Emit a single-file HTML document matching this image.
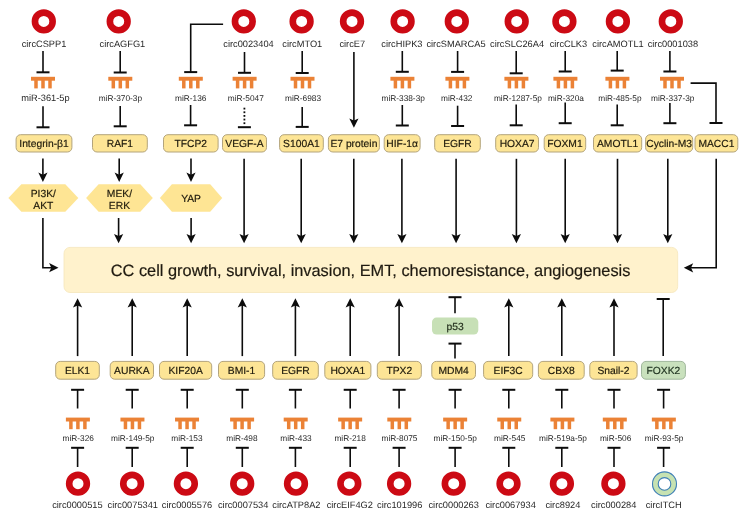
<!DOCTYPE html>
<html><head><meta charset="utf-8"><style>
html,body{margin:0;padding:0;background:#fff;}
svg{display:block;font-family:"Liberation Sans",sans-serif;will-change:transform;text-rendering:geometricPrecision;}
</style></head><body>
<svg width="742" height="515" viewBox="0 0 742 515">
<rect width="742" height="515" fill="#fff"/>
<rect x="64" y="247.4" width="613.7" height="45.1" rx="6" ry="6" fill="#fff2cc" stroke="#f5e6bb" stroke-width="0.8"/>
<text x="370.6" y="276.4" font-size="16.35" fill="#1f1a10" text-anchor="middle" stroke="#1f1a10" stroke-width="0.2">CC cell growth, survival, invasion, EMT, chemoresistance, angiogenesis</text>
<circle cx="43.8" cy="21.4" r="8.825" fill="none" stroke="#cc0a14" stroke-width="6.65"/>
<text x="44.0" y="46.7" font-size="9.25" fill="#262626" text-anchor="middle">circCSPP1</text>
<line x1="43.0" y1="51" x2="43.0" y2="72.3" stroke="#0c0c0c" stroke-width="1.6"/>
<line x1="36.5" y1="72.3" x2="49.5" y2="72.3" stroke="#0c0c0c" stroke-width="2"/>
<rect x="31.0" y="76.8" width="24" height="3.9" fill="#eb8236"/>
<rect x="34.25" y="79.8" width="3.5" height="8.6" fill="#eb8236"/>
<rect x="41.25" y="79.8" width="3.5" height="8.6" fill="#eb8236"/>
<rect x="48.25" y="79.8" width="3.5" height="8.6" fill="#eb8236"/>
<text x="45.4" y="100.9" font-size="9.25" fill="#262626" text-anchor="middle">miR-361-5p</text>
<line x1="43.0" y1="106.3" x2="43.0" y2="127.3" stroke="#0c0c0c" stroke-width="1.6"/>
<line x1="36.5" y1="127.3" x2="49.5" y2="127.3" stroke="#0c0c0c" stroke-width="2"/>
<rect x="16.1" y="134.7" width="55.800000000000004" height="17.30000000000001" rx="4.5" ry="4.5" fill="#fde596" stroke="#b3a47c" stroke-width="1"/>
<text x="44.0" y="147.26399999999998" font-size="10.3" fill="#1e1a0c" text-anchor="middle" stroke="#1e1a0c" stroke-width="0.18">Integrin-β1</text>
<circle cx="118.7" cy="21.4" r="8.825" fill="none" stroke="#cc0a14" stroke-width="6.65"/>
<text x="122.4" y="46.7" font-size="9.25" fill="#262626" text-anchor="middle">circAGFG1</text>
<line x1="120.2" y1="51" x2="120.2" y2="72.5" stroke="#0c0c0c" stroke-width="1.6"/>
<line x1="113.7" y1="72.5" x2="126.7" y2="72.5" stroke="#0c0c0c" stroke-width="2"/>
<rect x="108.3" y="76.8" width="24" height="3.9" fill="#eb8236"/>
<rect x="111.55" y="79.8" width="3.5" height="8.6" fill="#eb8236"/>
<rect x="118.55" y="79.8" width="3.5" height="8.6" fill="#eb8236"/>
<rect x="125.55" y="79.8" width="3.5" height="8.6" fill="#eb8236"/>
<text x="120.4" y="100.9" font-size="8.3" fill="#262626" text-anchor="middle">miR-370-3p</text>
<line x1="120.2" y1="106.1" x2="120.2" y2="126.3" stroke="#0c0c0c" stroke-width="1.6"/>
<line x1="113.7" y1="126.3" x2="126.7" y2="126.3" stroke="#0c0c0c" stroke-width="2"/>
<rect x="92.5" y="134.7" width="54.80000000000001" height="17.30000000000001" rx="4.5" ry="4.5" fill="#fde596" stroke="#b3a47c" stroke-width="1"/>
<text x="119.9" y="147.26399999999998" font-size="10.3" fill="#1e1a0c" text-anchor="middle" stroke="#1e1a0c" stroke-width="0.18">RAF1</text>
<circle cx="301.6" cy="21.4" r="8.825" fill="none" stroke="#cc0a14" stroke-width="6.65"/>
<text x="302.3" y="46.7" font-size="9.25" fill="#262626" text-anchor="middle">circMTO1</text>
<line x1="302.2" y1="51" x2="302.2" y2="73.0" stroke="#0c0c0c" stroke-width="1.6"/>
<line x1="295.7" y1="73.0" x2="308.7" y2="73.0" stroke="#0c0c0c" stroke-width="2"/>
<rect x="290.5" y="76.8" width="24" height="3.9" fill="#eb8236"/>
<rect x="293.75" y="79.8" width="3.5" height="8.6" fill="#eb8236"/>
<rect x="300.75" y="79.8" width="3.5" height="8.6" fill="#eb8236"/>
<rect x="307.75" y="79.8" width="3.5" height="8.6" fill="#eb8236"/>
<text x="303.1" y="100.9" font-size="8.3" fill="#262626" text-anchor="middle">miR-6983</text>
<line x1="302.2" y1="107" x2="302.2" y2="126.9" stroke="#0c0c0c" stroke-width="1.6"/>
<line x1="295.7" y1="126.9" x2="308.7" y2="126.9" stroke="#0c0c0c" stroke-width="2"/>
<rect x="279.6" y="134.7" width="43.69999999999999" height="17.30000000000001" rx="4.5" ry="4.5" fill="#fde596" stroke="#b3a47c" stroke-width="1"/>
<text x="301.45000000000005" y="147.26399999999998" font-size="10.3" fill="#1e1a0c" text-anchor="middle" stroke="#1e1a0c" stroke-width="0.18">S100A1</text>
<circle cx="402.6" cy="21.4" r="8.825" fill="none" stroke="#cc0a14" stroke-width="6.65"/>
<text x="401.9" y="46.7" font-size="9.25" fill="#262626" text-anchor="middle">circHIPK3</text>
<line x1="402.3" y1="51" x2="402.3" y2="71.8" stroke="#0c0c0c" stroke-width="1.6"/>
<line x1="395.8" y1="71.8" x2="408.8" y2="71.8" stroke="#0c0c0c" stroke-width="2"/>
<rect x="390.4" y="76.8" width="24" height="3.9" fill="#eb8236"/>
<rect x="393.65" y="79.8" width="3.5" height="8.6" fill="#eb8236"/>
<rect x="400.65" y="79.8" width="3.5" height="8.6" fill="#eb8236"/>
<rect x="407.65" y="79.8" width="3.5" height="8.6" fill="#eb8236"/>
<text x="403.2" y="100.9" font-size="8.3" fill="#262626" text-anchor="middle">miR-338-3p</text>
<line x1="402.3" y1="105" x2="402.3" y2="125.5" stroke="#0c0c0c" stroke-width="1.6"/>
<line x1="395.8" y1="125.5" x2="408.8" y2="125.5" stroke="#0c0c0c" stroke-width="2"/>
<rect x="384.2" y="134.7" width="35.900000000000034" height="17.30000000000001" rx="4.5" ry="4.5" fill="#fde596" stroke="#b3a47c" stroke-width="1"/>
<text x="402.15" y="147.26399999999998" font-size="10.3" fill="#1e1a0c" text-anchor="middle" stroke="#1e1a0c" stroke-width="0.18">HIF-1α</text>
<circle cx="456.8" cy="21.4" r="8.825" fill="none" stroke="#cc0a14" stroke-width="6.65"/>
<text x="456.0" y="46.7" font-size="9.25" fill="#262626" text-anchor="middle">circSMARCA5</text>
<line x1="457.6" y1="51" x2="457.6" y2="71.9" stroke="#0c0c0c" stroke-width="1.6"/>
<line x1="451.1" y1="71.9" x2="464.1" y2="71.9" stroke="#0c0c0c" stroke-width="2"/>
<rect x="445.4" y="76.8" width="24" height="3.9" fill="#eb8236"/>
<rect x="448.65" y="79.8" width="3.5" height="8.6" fill="#eb8236"/>
<rect x="455.65" y="79.8" width="3.5" height="8.6" fill="#eb8236"/>
<rect x="462.65" y="79.8" width="3.5" height="8.6" fill="#eb8236"/>
<text x="456.7" y="100.9" font-size="8.3" fill="#262626" text-anchor="middle">miR-432</text>
<line x1="457.6" y1="105.7" x2="457.6" y2="126.0" stroke="#0c0c0c" stroke-width="1.6"/>
<line x1="451.1" y1="126.0" x2="464.1" y2="126.0" stroke="#0c0c0c" stroke-width="2"/>
<rect x="434.7" y="134.7" width="45.60000000000002" height="17.30000000000001" rx="4.5" ry="4.5" fill="#fde596" stroke="#b3a47c" stroke-width="1"/>
<text x="457.5" y="147.26399999999998" font-size="10.3" fill="#1e1a0c" text-anchor="middle" stroke="#1e1a0c" stroke-width="0.18">EGFR</text>
<circle cx="516.7" cy="21.4" r="8.825" fill="none" stroke="#cc0a14" stroke-width="6.65"/>
<text x="517.1" y="46.7" font-size="9.25" fill="#262626" text-anchor="middle">circSLC26A4</text>
<line x1="516.2" y1="51" x2="516.2" y2="73.3" stroke="#0c0c0c" stroke-width="1.6"/>
<line x1="509.70000000000005" y1="73.3" x2="522.7" y2="73.3" stroke="#0c0c0c" stroke-width="2"/>
<rect x="504.4" y="76.8" width="24" height="3.9" fill="#eb8236"/>
<rect x="507.65" y="79.8" width="3.5" height="8.6" fill="#eb8236"/>
<rect x="514.65" y="79.8" width="3.5" height="8.6" fill="#eb8236"/>
<rect x="521.65" y="79.8" width="3.5" height="8.6" fill="#eb8236"/>
<text x="517.9" y="100.9" font-size="8.3" fill="#262626" text-anchor="middle">miR-1287-5p</text>
<line x1="516.2" y1="104.4" x2="516.2" y2="125.3" stroke="#0c0c0c" stroke-width="1.6"/>
<line x1="509.70000000000005" y1="125.3" x2="522.7" y2="125.3" stroke="#0c0c0c" stroke-width="2"/>
<rect x="495.7" y="134.7" width="42.80000000000001" height="17.30000000000001" rx="4.5" ry="4.5" fill="#fde596" stroke="#b3a47c" stroke-width="1"/>
<text x="517.1" y="147.26399999999998" font-size="10.3" fill="#1e1a0c" text-anchor="middle" stroke="#1e1a0c" stroke-width="0.18">HOXA7</text>
<circle cx="564.4" cy="21.4" r="8.825" fill="none" stroke="#cc0a14" stroke-width="6.65"/>
<text x="568.4" y="46.7" font-size="9.25" fill="#262626" text-anchor="middle">circCLK3</text>
<line x1="565.2" y1="51" x2="565.2" y2="71.5" stroke="#0c0c0c" stroke-width="1.6"/>
<line x1="558.7" y1="71.5" x2="571.7" y2="71.5" stroke="#0c0c0c" stroke-width="2"/>
<rect x="553.4" y="76.8" width="24" height="3.9" fill="#eb8236"/>
<rect x="556.65" y="79.8" width="3.5" height="8.6" fill="#eb8236"/>
<rect x="563.65" y="79.8" width="3.5" height="8.6" fill="#eb8236"/>
<rect x="570.65" y="79.8" width="3.5" height="8.6" fill="#eb8236"/>
<text x="565.9" y="100.9" font-size="8.3" fill="#262626" text-anchor="middle">miR-320a</text>
<line x1="565.2" y1="102.5" x2="565.2" y2="123.2" stroke="#0c0c0c" stroke-width="1.6"/>
<line x1="558.7" y1="123.2" x2="571.7" y2="123.2" stroke="#0c0c0c" stroke-width="2"/>
<rect x="544.2" y="134.7" width="41.5" height="17.30000000000001" rx="4.5" ry="4.5" fill="#fde596" stroke="#b3a47c" stroke-width="1"/>
<text x="564.95" y="147.26399999999998" font-size="10.3" fill="#1e1a0c" text-anchor="middle" stroke="#1e1a0c" stroke-width="0.18">FOXM1</text>
<circle cx="617.9" cy="21.4" r="8.825" fill="none" stroke="#cc0a14" stroke-width="6.65"/>
<text x="618.0" y="46.7" font-size="9.25" fill="#262626" text-anchor="middle">circAMOTL1</text>
<line x1="617.2" y1="51" x2="617.2" y2="70.6" stroke="#0c0c0c" stroke-width="1.6"/>
<line x1="610.7" y1="70.6" x2="623.7" y2="70.6" stroke="#0c0c0c" stroke-width="2"/>
<rect x="605.4" y="76.8" width="24" height="3.9" fill="#eb8236"/>
<rect x="608.65" y="79.8" width="3.5" height="8.6" fill="#eb8236"/>
<rect x="615.65" y="79.8" width="3.5" height="8.6" fill="#eb8236"/>
<rect x="622.65" y="79.8" width="3.5" height="8.6" fill="#eb8236"/>
<text x="619.9" y="100.9" font-size="8.3" fill="#262626" text-anchor="middle">miR-485-5p</text>
<line x1="617.2" y1="104.4" x2="617.2" y2="125.3" stroke="#0c0c0c" stroke-width="1.6"/>
<line x1="610.7" y1="125.3" x2="623.7" y2="125.3" stroke="#0c0c0c" stroke-width="2"/>
<rect x="593.5" y="134.7" width="48.200000000000045" height="17.30000000000001" rx="4.5" ry="4.5" fill="#fde596" stroke="#b3a47c" stroke-width="1"/>
<text x="617.6" y="147.26399999999998" font-size="10.3" fill="#1e1a0c" text-anchor="middle" stroke="#1e1a0c" stroke-width="0.18">AMOTL1</text>
<circle cx="670.8" cy="21.4" r="8.825" fill="none" stroke="#cc0a14" stroke-width="6.65"/>
<text x="672.9" y="46.7" font-size="9.25" fill="#262626" text-anchor="middle">circ0001038</text>
<line x1="669.9" y1="51" x2="669.9" y2="71.5" stroke="#0c0c0c" stroke-width="1.6"/>
<line x1="663.4" y1="71.5" x2="676.4" y2="71.5" stroke="#0c0c0c" stroke-width="2"/>
<rect x="660.0" y="76.8" width="24" height="3.9" fill="#eb8236"/>
<rect x="663.25" y="79.8" width="3.5" height="8.6" fill="#eb8236"/>
<rect x="670.25" y="79.8" width="3.5" height="8.6" fill="#eb8236"/>
<rect x="677.25" y="79.8" width="3.5" height="8.6" fill="#eb8236"/>
<text x="672.8" y="100.9" font-size="8.3" fill="#262626" text-anchor="middle">miR-337-3p</text>
<line x1="669.9" y1="103" x2="669.9" y2="123.2" stroke="#0c0c0c" stroke-width="1.6"/>
<line x1="663.4" y1="123.2" x2="676.4" y2="123.2" stroke="#0c0c0c" stroke-width="2"/>
<rect x="645.6" y="134.7" width="47.10000000000002" height="17.30000000000001" rx="4.5" ry="4.5" fill="#fde596" stroke="#b3a47c" stroke-width="1"/>
<text x="669.1500000000001" y="147.26399999999998" font-size="10.3" fill="#1e1a0c" text-anchor="middle" stroke="#1e1a0c" stroke-width="0.18">Cyclin-M3</text>
<circle cx="243.8" cy="21.4" r="8.825" fill="none" stroke="#cc0a14" stroke-width="6.65"/>
<text x="248.5" y="46.7" font-size="9.25" fill="#262626" text-anchor="middle">circ0023404</text>
<line x1="244.5" y1="52" x2="244.5" y2="72.8" stroke="#0c0c0c" stroke-width="1.6"/>
<line x1="238.0" y1="72.8" x2="251.0" y2="72.8" stroke="#0c0c0c" stroke-width="2"/>
<rect x="232.6" y="76.8" width="24" height="3.9" fill="#eb8236"/>
<rect x="235.85" y="79.8" width="3.5" height="8.6" fill="#eb8236"/>
<rect x="242.85" y="79.8" width="3.5" height="8.6" fill="#eb8236"/>
<rect x="249.85" y="79.8" width="3.5" height="8.6" fill="#eb8236"/>
<text x="245.8" y="100.9" font-size="8.3" fill="#262626" text-anchor="middle">miR-5047</text>
<rect x="243.5" y="107.69999999999999" width="1.8" height="1.8" fill="#0c0c0c"/>
<rect x="243.5" y="111.35" width="1.8" height="1.8" fill="#0c0c0c"/>
<rect x="243.5" y="115.0" width="1.8" height="1.8" fill="#0c0c0c"/>
<rect x="243.5" y="118.64999999999999" width="1.8" height="1.8" fill="#0c0c0c"/>
<rect x="243.5" y="122.3" width="1.8" height="1.8" fill="#0c0c0c"/>
<line x1="237.9" y1="127.2" x2="250.9" y2="127.2" stroke="#0c0c0c" stroke-width="2"/>
<rect x="222.5" y="134.7" width="44.0" height="17.30000000000001" rx="4.5" ry="4.5" fill="#fde596" stroke="#b3a47c" stroke-width="1"/>
<text x="244.5" y="147.26399999999998" font-size="10.3" fill="#1e1a0c" text-anchor="middle" stroke="#1e1a0c" stroke-width="0.18">VEGF-A</text>
<polyline points="223.1,24.3 190.7,24.3 190.7,72.1" fill="none" stroke="#0c0c0c" stroke-width="1.6"/>
<line x1="184.2" y1="72.1" x2="197.2" y2="72.1" stroke="#0c0c0c" stroke-width="2"/>
<rect x="178.8" y="76.8" width="24" height="3.9" fill="#eb8236"/>
<rect x="182.05" y="79.8" width="3.5" height="8.6" fill="#eb8236"/>
<rect x="189.05" y="79.8" width="3.5" height="8.6" fill="#eb8236"/>
<rect x="196.05" y="79.8" width="3.5" height="8.6" fill="#eb8236"/>
<text x="190.8" y="100.9" font-size="8.3" fill="#262626" text-anchor="middle">miR-136</text>
<line x1="190.6" y1="105" x2="190.6" y2="125.3" stroke="#0c0c0c" stroke-width="1.6"/>
<line x1="184.1" y1="125.3" x2="197.1" y2="125.3" stroke="#0c0c0c" stroke-width="2"/>
<rect x="163.5" y="134.7" width="54.599999999999994" height="17.30000000000001" rx="4.5" ry="4.5" fill="#fde596" stroke="#b3a47c" stroke-width="1"/>
<text x="190.8" y="147.26399999999998" font-size="10.3" fill="#1e1a0c" text-anchor="middle" stroke="#1e1a0c" stroke-width="0.18">TFCP2</text>
<circle cx="352.0" cy="21.4" r="8.825" fill="none" stroke="#cc0a14" stroke-width="6.65"/>
<text x="352.3" y="46.7" font-size="9.25" fill="#262626" text-anchor="middle">circE7</text>
<line x1="353.9" y1="52" x2="353.9" y2="122.8" stroke="#0c0c0c" stroke-width="1.6"/>
<polygon points="353.9,127.8 349.29999999999995,118.39999999999999 353.9,120.6 358.5,118.39999999999999" fill="#0c0c0c"/>
<rect x="328.4" y="134.7" width="51.0" height="17.30000000000001" rx="4.5" ry="4.5" fill="#fde596" stroke="#b3a47c" stroke-width="1"/>
<text x="353.9" y="147.26399999999998" font-size="10.3" fill="#1e1a0c" text-anchor="middle" stroke="#1e1a0c" stroke-width="0.18">E7 protein</text>
<polyline points="690.6,83.1 716,83.1 716,123" fill="none" stroke="#0c0c0c" stroke-width="1.6"/>
<line x1="709.5" y1="123" x2="722.5" y2="123" stroke="#0c0c0c" stroke-width="2"/>
<rect x="695" y="134.7" width="42.799999999999955" height="17.30000000000001" rx="4.5" ry="4.5" fill="#fde596" stroke="#b3a47c" stroke-width="1"/>
<text x="716.4" y="147.26399999999998" font-size="10.3" fill="#1e1a0c" text-anchor="middle" stroke="#1e1a0c" stroke-width="0.18">MACC1</text>
<line x1="42.9" y1="158.5" x2="42.9" y2="177" stroke="#0c0c0c" stroke-width="1.6"/>
<polygon points="42.9,182 38.3,172.6 42.9,174.8 47.5,172.6" fill="#0c0c0c"/>
<line x1="119.2" y1="158.5" x2="119.2" y2="177" stroke="#0c0c0c" stroke-width="1.6"/>
<polygon points="119.2,182 114.60000000000001,172.6 119.2,174.8 123.8,172.6" fill="#0c0c0c"/>
<line x1="191.0" y1="158.5" x2="191.0" y2="177" stroke="#0c0c0c" stroke-width="1.6"/>
<polygon points="191.0,182 186.4,172.6 191.0,174.8 195.6,172.6" fill="#0c0c0c"/>
<polygon points="8.4,198.05 21.4,184.3 65.3,184.3 78.3,198.05 65.3,211.8 21.4,211.8" fill="#fee594"/>
<text x="43.35" y="196.55" font-size="10.3" fill="#1e1a0c" text-anchor="middle" stroke="#1e1a0c" stroke-width="0.18">PI3K/</text>
<text x="43.35" y="208.75" font-size="10.3" fill="#1e1a0c" text-anchor="middle" stroke="#1e1a0c" stroke-width="0.18">AKT</text>
<polygon points="86.1,198.05 98.6,184.3 140.3,184.3 152.8,198.05 140.3,211.8 98.6,211.8" fill="#fee594"/>
<text x="119.45" y="196.55" font-size="10.3" fill="#1e1a0c" text-anchor="middle" stroke="#1e1a0c" stroke-width="0.18">MEK/</text>
<text x="119.45" y="208.75" font-size="10.3" fill="#1e1a0c" text-anchor="middle" stroke="#1e1a0c" stroke-width="0.18">ERK</text>
<polygon points="159.9,198.05 171.9,184.3 210.2,184.3 222.2,198.05 210.2,211.8 171.9,211.8" fill="#fee594"/>
<text x="191.05" y="201.65" font-size="10.3" fill="#1e1a0c" text-anchor="middle" stroke="#1e1a0c" stroke-width="0.18">YAP</text>
<polyline points="42.9,218 42.9,267.7 54,267.7" fill="none" stroke="#0c0c0c" stroke-width="1.6"/>
<polygon points="58.5,267.7 49.1,263.09999999999997 51.3,267.7 49.1,272.3" fill="#0c0c0c"/>
<line x1="118.6" y1="218" x2="118.6" y2="238.3" stroke="#0c0c0c" stroke-width="1.6"/>
<polygon points="118.6,243.3 114.0,233.9 118.6,236.10000000000002 123.19999999999999,233.9" fill="#0c0c0c"/>
<line x1="191.1" y1="218" x2="191.1" y2="238.3" stroke="#0c0c0c" stroke-width="1.6"/>
<polygon points="191.1,243.3 186.5,233.9 191.1,236.10000000000002 195.7,233.9" fill="#0c0c0c"/>
<line x1="244.1" y1="158.8" x2="244.1" y2="238.3" stroke="#0c0c0c" stroke-width="1.6"/>
<polygon points="244.1,243.3 239.5,233.9 244.1,236.10000000000002 248.7,233.9" fill="#0c0c0c"/>
<line x1="301.2" y1="158.8" x2="301.2" y2="238.3" stroke="#0c0c0c" stroke-width="1.6"/>
<polygon points="301.2,243.3 296.59999999999997,233.9 301.2,236.10000000000002 305.8,233.9" fill="#0c0c0c"/>
<line x1="353.8" y1="158.8" x2="353.8" y2="238.3" stroke="#0c0c0c" stroke-width="1.6"/>
<polygon points="353.8,243.3 349.2,233.9 353.8,236.10000000000002 358.40000000000003,233.9" fill="#0c0c0c"/>
<line x1="401.9" y1="158.8" x2="401.9" y2="238.3" stroke="#0c0c0c" stroke-width="1.6"/>
<polygon points="401.9,243.3 397.29999999999995,233.9 401.9,236.10000000000002 406.5,233.9" fill="#0c0c0c"/>
<line x1="456.1" y1="158.8" x2="456.1" y2="238.3" stroke="#0c0c0c" stroke-width="1.6"/>
<polygon points="456.1,243.3 451.5,233.9 456.1,236.10000000000002 460.70000000000005,233.9" fill="#0c0c0c"/>
<line x1="516.4" y1="158.8" x2="516.4" y2="238.3" stroke="#0c0c0c" stroke-width="1.6"/>
<polygon points="516.4,243.3 511.79999999999995,233.9 516.4,236.10000000000002 521.0,233.9" fill="#0c0c0c"/>
<line x1="565.2" y1="158.8" x2="565.2" y2="238.3" stroke="#0c0c0c" stroke-width="1.6"/>
<polygon points="565.2,243.3 560.6,233.9 565.2,236.10000000000002 569.8000000000001,233.9" fill="#0c0c0c"/>
<line x1="617.5" y1="158.8" x2="617.5" y2="238.3" stroke="#0c0c0c" stroke-width="1.6"/>
<polygon points="617.5,243.3 612.9,233.9 617.5,236.10000000000002 622.1,233.9" fill="#0c0c0c"/>
<line x1="667.8" y1="158.8" x2="667.8" y2="238.3" stroke="#0c0c0c" stroke-width="1.6"/>
<polygon points="667.8,243.3 663.1999999999999,233.9 667.8,236.10000000000002 672.4,233.9" fill="#0c0c0c"/>
<polyline points="716.2,158.8 716.2,267.8 688,267.8" fill="none" stroke="#0c0c0c" stroke-width="1.6"/>
<polygon points="683.8,267.8 693.1999999999999,263.2 691.0,267.8 693.1999999999999,272.40000000000003" fill="#0c0c0c"/>
<circle cx="78.0" cy="483.7" r="8.825" fill="none" stroke="#cc0a14" stroke-width="6.65"/>
<rect x="55.7" y="361.4" width="43.599999999999994" height="17.80000000000001" rx="4.5" ry="4.5" fill="#fde596" stroke="#b3a47c" stroke-width="1"/>
<text x="77.5" y="374.21399999999994" font-size="10.3" fill="#1e1a0c" text-anchor="middle" stroke="#1e1a0c" stroke-width="0.18">ELK1</text>
<text x="77.4" y="508.3" font-size="9.25" fill="#262626" text-anchor="middle">circ0000515</text>
<line x1="77.6" y1="447.8" x2="77.6" y2="467" stroke="#0c0c0c" stroke-width="1.6"/>
<line x1="71.1" y1="447.8" x2="84.1" y2="447.8" stroke="#0c0c0c" stroke-width="2"/>
<rect x="65.9" y="417.6" width="24" height="3.9" fill="#eb8236"/>
<rect x="69.15" y="420.6" width="3.5" height="8.6" fill="#eb8236"/>
<rect x="76.15" y="420.6" width="3.5" height="8.6" fill="#eb8236"/>
<rect x="83.15" y="420.6" width="3.5" height="8.6" fill="#eb8236"/>
<text x="78.2" y="441.1" font-size="8.3" fill="#262626" text-anchor="middle">miR-326</text>
<line x1="77.6" y1="389.8" x2="77.6" y2="408.5" stroke="#0c0c0c" stroke-width="1.6"/>
<line x1="71.1" y1="389.8" x2="84.1" y2="389.8" stroke="#0c0c0c" stroke-width="2"/>
<line x1="77.6" y1="356.1" x2="77.6" y2="303.2" stroke="#0c0c0c" stroke-width="1.6"/>
<polygon points="77.6,298.2 73.0,307.59999999999997 77.6,305.4 82.19999999999999,307.59999999999997" fill="#0c0c0c"/>
<circle cx="132.1" cy="483.7" r="8.825" fill="none" stroke="#cc0a14" stroke-width="6.65"/>
<rect x="110.2" y="361.4" width="43.3" height="17.80000000000001" rx="4.5" ry="4.5" fill="#fde596" stroke="#b3a47c" stroke-width="1"/>
<text x="131.85" y="374.21399999999994" font-size="10.3" fill="#1e1a0c" text-anchor="middle" stroke="#1e1a0c" stroke-width="0.18">AURKA</text>
<text x="132.8" y="508.3" font-size="9.25" fill="#262626" text-anchor="middle">circ0075341</text>
<line x1="132.2" y1="447.8" x2="132.2" y2="467" stroke="#0c0c0c" stroke-width="1.6"/>
<line x1="125.69999999999999" y1="447.8" x2="138.7" y2="447.8" stroke="#0c0c0c" stroke-width="2"/>
<rect x="120.44999999999999" y="417.6" width="24" height="3.9" fill="#eb8236"/>
<rect x="123.69999999999999" y="420.6" width="3.5" height="8.6" fill="#eb8236"/>
<rect x="130.7" y="420.6" width="3.5" height="8.6" fill="#eb8236"/>
<rect x="137.7" y="420.6" width="3.5" height="8.6" fill="#eb8236"/>
<text x="132.7" y="441.1" font-size="8.3" fill="#262626" text-anchor="middle">miR-149-5p</text>
<line x1="132.2" y1="389.8" x2="132.2" y2="408.5" stroke="#0c0c0c" stroke-width="1.6"/>
<line x1="125.69999999999999" y1="389.8" x2="138.7" y2="389.8" stroke="#0c0c0c" stroke-width="2"/>
<line x1="132.2" y1="356.1" x2="132.2" y2="303.2" stroke="#0c0c0c" stroke-width="1.6"/>
<polygon points="132.2,298.2 127.6,307.59999999999997 132.2,305.4 136.79999999999998,307.59999999999997" fill="#0c0c0c"/>
<circle cx="185.9" cy="483.7" r="8.825" fill="none" stroke="#cc0a14" stroke-width="6.65"/>
<rect x="159.5" y="361.4" width="52.19999999999999" height="17.80000000000001" rx="4.5" ry="4.5" fill="#fde596" stroke="#b3a47c" stroke-width="1"/>
<text x="185.6" y="374.21399999999994" font-size="10.3" fill="#1e1a0c" text-anchor="middle" stroke="#1e1a0c" stroke-width="0.18">KIF20A</text>
<text x="187.0" y="508.3" font-size="9.25" fill="#262626" text-anchor="middle">circ0005576</text>
<line x1="187.2" y1="447.8" x2="187.2" y2="467" stroke="#0c0c0c" stroke-width="1.6"/>
<line x1="180.7" y1="447.8" x2="193.7" y2="447.8" stroke="#0c0c0c" stroke-width="2"/>
<rect x="175.05" y="417.6" width="24" height="3.9" fill="#eb8236"/>
<rect x="178.3" y="420.6" width="3.5" height="8.6" fill="#eb8236"/>
<rect x="185.3" y="420.6" width="3.5" height="8.6" fill="#eb8236"/>
<rect x="192.3" y="420.6" width="3.5" height="8.6" fill="#eb8236"/>
<text x="186.9" y="441.1" font-size="8.3" fill="#262626" text-anchor="middle">miR-153</text>
<line x1="187.2" y1="389.8" x2="187.2" y2="408.5" stroke="#0c0c0c" stroke-width="1.6"/>
<line x1="180.7" y1="389.8" x2="193.7" y2="389.8" stroke="#0c0c0c" stroke-width="2"/>
<line x1="187.2" y1="356.1" x2="187.2" y2="303.2" stroke="#0c0c0c" stroke-width="1.6"/>
<polygon points="187.2,298.2 182.6,307.59999999999997 187.2,305.4 191.79999999999998,307.59999999999997" fill="#0c0c0c"/>
<circle cx="242.2" cy="483.7" r="8.825" fill="none" stroke="#cc0a14" stroke-width="6.65"/>
<rect x="218.5" y="361.4" width="46.10000000000002" height="17.80000000000001" rx="4.5" ry="4.5" fill="#fde596" stroke="#b3a47c" stroke-width="1"/>
<text x="241.55" y="374.21399999999994" font-size="10.3" fill="#1e1a0c" text-anchor="middle" stroke="#1e1a0c" stroke-width="0.18">BMI-1</text>
<text x="243.2" y="508.3" font-size="9.25" fill="#262626" text-anchor="middle">circ0007534</text>
<line x1="242.3" y1="447.8" x2="242.3" y2="467" stroke="#0c0c0c" stroke-width="1.6"/>
<line x1="235.8" y1="447.8" x2="248.8" y2="447.8" stroke="#0c0c0c" stroke-width="2"/>
<rect x="230.10000000000002" y="417.6" width="24" height="3.9" fill="#eb8236"/>
<rect x="233.35000000000002" y="420.6" width="3.5" height="8.6" fill="#eb8236"/>
<rect x="240.35000000000002" y="420.6" width="3.5" height="8.6" fill="#eb8236"/>
<rect x="247.35000000000002" y="420.6" width="3.5" height="8.6" fill="#eb8236"/>
<text x="241.9" y="441.1" font-size="8.3" fill="#262626" text-anchor="middle">miR-498</text>
<line x1="242.3" y1="389.8" x2="242.3" y2="408.5" stroke="#0c0c0c" stroke-width="1.6"/>
<line x1="235.8" y1="389.8" x2="248.8" y2="389.8" stroke="#0c0c0c" stroke-width="2"/>
<line x1="242.3" y1="356.1" x2="242.3" y2="303.2" stroke="#0c0c0c" stroke-width="1.6"/>
<polygon points="242.3,298.2 237.70000000000002,307.59999999999997 242.3,305.4 246.9,307.59999999999997" fill="#0c0c0c"/>
<circle cx="296.0" cy="483.7" r="8.825" fill="none" stroke="#cc0a14" stroke-width="6.65"/>
<rect x="272.7" y="361.4" width="45.60000000000002" height="17.80000000000001" rx="4.5" ry="4.5" fill="#fde596" stroke="#b3a47c" stroke-width="1"/>
<text x="295.5" y="374.21399999999994" font-size="10.3" fill="#1e1a0c" text-anchor="middle" stroke="#1e1a0c" stroke-width="0.18">EGFR</text>
<text x="296.4" y="508.3" font-size="9.25" fill="#262626" text-anchor="middle">circATP8A2</text>
<line x1="295.4" y1="447.8" x2="295.4" y2="467" stroke="#0c0c0c" stroke-width="1.6"/>
<line x1="288.9" y1="447.8" x2="301.9" y2="447.8" stroke="#0c0c0c" stroke-width="2"/>
<rect x="283.7" y="417.6" width="24" height="3.9" fill="#eb8236"/>
<rect x="286.95" y="420.6" width="3.5" height="8.6" fill="#eb8236"/>
<rect x="293.95" y="420.6" width="3.5" height="8.6" fill="#eb8236"/>
<rect x="300.95" y="420.6" width="3.5" height="8.6" fill="#eb8236"/>
<text x="296.0" y="441.1" font-size="8.3" fill="#262626" text-anchor="middle">miR-433</text>
<line x1="295.4" y1="389.8" x2="295.4" y2="408.5" stroke="#0c0c0c" stroke-width="1.6"/>
<line x1="288.9" y1="389.8" x2="301.9" y2="389.8" stroke="#0c0c0c" stroke-width="2"/>
<line x1="295.4" y1="356.1" x2="295.4" y2="303.2" stroke="#0c0c0c" stroke-width="1.6"/>
<polygon points="295.4,298.2 290.79999999999995,307.59999999999997 295.4,305.4 300.0,307.59999999999997" fill="#0c0c0c"/>
<circle cx="349.3" cy="483.7" r="8.825" fill="none" stroke="#cc0a14" stroke-width="6.65"/>
<rect x="324.8" y="361.4" width="46.099999999999966" height="17.80000000000001" rx="4.5" ry="4.5" fill="#fde596" stroke="#b3a47c" stroke-width="1"/>
<text x="347.85" y="374.21399999999994" font-size="10.3" fill="#1e1a0c" text-anchor="middle" stroke="#1e1a0c" stroke-width="0.18">HOXA1</text>
<text x="349.8" y="508.3" font-size="9.25" fill="#262626" text-anchor="middle">circEIF4G2</text>
<line x1="350.2" y1="447.8" x2="350.2" y2="467" stroke="#0c0c0c" stroke-width="1.6"/>
<line x1="343.7" y1="447.8" x2="356.7" y2="447.8" stroke="#0c0c0c" stroke-width="2"/>
<rect x="338.15" y="417.6" width="24" height="3.9" fill="#eb8236"/>
<rect x="341.4" y="420.6" width="3.5" height="8.6" fill="#eb8236"/>
<rect x="348.4" y="420.6" width="3.5" height="8.6" fill="#eb8236"/>
<rect x="355.4" y="420.6" width="3.5" height="8.6" fill="#eb8236"/>
<text x="350.1" y="441.1" font-size="8.3" fill="#262626" text-anchor="middle">miR-218</text>
<line x1="350.2" y1="389.8" x2="350.2" y2="408.5" stroke="#0c0c0c" stroke-width="1.6"/>
<line x1="343.7" y1="389.8" x2="356.7" y2="389.8" stroke="#0c0c0c" stroke-width="2"/>
<line x1="350.2" y1="356.1" x2="350.2" y2="303.2" stroke="#0c0c0c" stroke-width="1.6"/>
<polygon points="350.2,298.2 345.59999999999997,307.59999999999997 350.2,305.4 354.8,307.59999999999997" fill="#0c0c0c"/>
<circle cx="399.1" cy="483.7" r="8.825" fill="none" stroke="#cc0a14" stroke-width="6.65"/>
<rect x="377.3" y="361.4" width="44.0" height="17.80000000000001" rx="4.5" ry="4.5" fill="#fde596" stroke="#b3a47c" stroke-width="1"/>
<text x="399.3" y="374.21399999999994" font-size="10.3" fill="#1e1a0c" text-anchor="middle" stroke="#1e1a0c" stroke-width="0.18">TPX2</text>
<text x="399.7" y="508.3" font-size="9.25" fill="#262626" text-anchor="middle">circ101996</text>
<line x1="399.1" y1="447.8" x2="399.1" y2="467" stroke="#0c0c0c" stroke-width="1.6"/>
<line x1="392.6" y1="447.8" x2="405.6" y2="447.8" stroke="#0c0c0c" stroke-width="2"/>
<rect x="387.3" y="417.6" width="24" height="3.9" fill="#eb8236"/>
<rect x="390.55" y="420.6" width="3.5" height="8.6" fill="#eb8236"/>
<rect x="397.55" y="420.6" width="3.5" height="8.6" fill="#eb8236"/>
<rect x="404.55" y="420.6" width="3.5" height="8.6" fill="#eb8236"/>
<text x="399.5" y="441.1" font-size="8.3" fill="#262626" text-anchor="middle">miR-8075</text>
<line x1="399.1" y1="389.8" x2="399.1" y2="408.5" stroke="#0c0c0c" stroke-width="1.6"/>
<line x1="392.6" y1="389.8" x2="405.6" y2="389.8" stroke="#0c0c0c" stroke-width="2"/>
<line x1="399.1" y1="356.1" x2="399.1" y2="303.2" stroke="#0c0c0c" stroke-width="1.6"/>
<polygon points="399.1,298.2 394.5,307.59999999999997 399.1,305.4 403.70000000000005,307.59999999999997" fill="#0c0c0c"/>
<circle cx="453.7" cy="483.7" r="8.825" fill="none" stroke="#cc0a14" stroke-width="6.65"/>
<rect x="431.8" y="361.4" width="43.69999999999999" height="17.80000000000001" rx="4.5" ry="4.5" fill="#fde596" stroke="#b3a47c" stroke-width="1"/>
<text x="453.65" y="374.21399999999994" font-size="10.3" fill="#1e1a0c" text-anchor="middle" stroke="#1e1a0c" stroke-width="0.18">MDM4</text>
<text x="453.7" y="508.3" font-size="9.25" fill="#262626" text-anchor="middle">circ0000263</text>
<line x1="455.1" y1="447.8" x2="455.1" y2="467" stroke="#0c0c0c" stroke-width="1.6"/>
<line x1="448.6" y1="447.8" x2="461.6" y2="447.8" stroke="#0c0c0c" stroke-width="2"/>
<rect x="443.15" y="417.6" width="24" height="3.9" fill="#eb8236"/>
<rect x="446.4" y="420.6" width="3.5" height="8.6" fill="#eb8236"/>
<rect x="453.4" y="420.6" width="3.5" height="8.6" fill="#eb8236"/>
<rect x="460.4" y="420.6" width="3.5" height="8.6" fill="#eb8236"/>
<text x="455.2" y="441.1" font-size="8.3" fill="#262626" text-anchor="middle">miR-150-5p</text>
<line x1="455.1" y1="389.8" x2="455.1" y2="408.5" stroke="#0c0c0c" stroke-width="1.6"/>
<line x1="448.6" y1="389.8" x2="461.6" y2="389.8" stroke="#0c0c0c" stroke-width="2"/>
<line x1="455" y1="343.6" x2="455" y2="358.4" stroke="#0c0c0c" stroke-width="1.6"/>
<line x1="448.5" y1="343.6" x2="461.5" y2="343.6" stroke="#0c0c0c" stroke-width="2"/>
<rect x="432" y="317.6" width="46.3" height="17" rx="4.5" ry="4.5" fill="#c7e0b6"/>
<text x="455.2" y="329.8" font-size="10.3" fill="#26321f" text-anchor="middle" stroke="#26321f" stroke-width="0.18">p53</text>
<line x1="455" y1="297.2" x2="455" y2="313.2" stroke="#0c0c0c" stroke-width="1.6"/>
<line x1="448.5" y1="297.2" x2="461.5" y2="297.2" stroke="#0c0c0c" stroke-width="2"/>
<circle cx="508.5" cy="483.7" r="8.825" fill="none" stroke="#cc0a14" stroke-width="6.65"/>
<rect x="483.6" y="361.4" width="49.10000000000002" height="17.80000000000001" rx="4.5" ry="4.5" fill="#fde596" stroke="#b3a47c" stroke-width="1"/>
<text x="508.15000000000003" y="374.21399999999994" font-size="10.3" fill="#1e1a0c" text-anchor="middle" stroke="#1e1a0c" stroke-width="0.18">EIF3C</text>
<text x="510.6" y="508.3" font-size="9.25" fill="#262626" text-anchor="middle">circ0067934</text>
<line x1="508.8" y1="447.8" x2="508.8" y2="467" stroke="#0c0c0c" stroke-width="1.6"/>
<line x1="502.3" y1="447.8" x2="515.3" y2="447.8" stroke="#0c0c0c" stroke-width="2"/>
<rect x="497.25" y="417.6" width="24" height="3.9" fill="#eb8236"/>
<rect x="500.5" y="420.6" width="3.5" height="8.6" fill="#eb8236"/>
<rect x="507.5" y="420.6" width="3.5" height="8.6" fill="#eb8236"/>
<rect x="514.5" y="420.6" width="3.5" height="8.6" fill="#eb8236"/>
<text x="509.7" y="441.1" font-size="8.3" fill="#262626" text-anchor="middle">miR-545</text>
<line x1="508.8" y1="389.8" x2="508.8" y2="408.5" stroke="#0c0c0c" stroke-width="1.6"/>
<line x1="502.3" y1="389.8" x2="515.3" y2="389.8" stroke="#0c0c0c" stroke-width="2"/>
<line x1="508.8" y1="356.1" x2="508.8" y2="303.2" stroke="#0c0c0c" stroke-width="1.6"/>
<polygon points="508.8,298.2 504.2,307.59999999999997 508.8,305.4 513.4,307.59999999999997" fill="#0c0c0c"/>
<circle cx="561.9" cy="483.7" r="8.825" fill="none" stroke="#cc0a14" stroke-width="6.65"/>
<rect x="538.4" y="361.4" width="45.80000000000007" height="17.80000000000001" rx="4.5" ry="4.5" fill="#fde596" stroke="#b3a47c" stroke-width="1"/>
<text x="561.3" y="374.21399999999994" font-size="10.3" fill="#1e1a0c" text-anchor="middle" stroke="#1e1a0c" stroke-width="0.18">CBX8</text>
<text x="562.9" y="508.3" font-size="9.25" fill="#262626" text-anchor="middle">circ8924</text>
<line x1="561.8" y1="447.8" x2="561.8" y2="467" stroke="#0c0c0c" stroke-width="1.6"/>
<line x1="555.3" y1="447.8" x2="568.3" y2="447.8" stroke="#0c0c0c" stroke-width="2"/>
<rect x="550.4" y="417.6" width="24" height="3.9" fill="#eb8236"/>
<rect x="553.65" y="420.6" width="3.5" height="8.6" fill="#eb8236"/>
<rect x="560.65" y="420.6" width="3.5" height="8.6" fill="#eb8236"/>
<rect x="567.65" y="420.6" width="3.5" height="8.6" fill="#eb8236"/>
<text x="563.0" y="441.1" font-size="8.3" fill="#262626" text-anchor="middle">miR-519a-5p</text>
<line x1="561.8" y1="389.8" x2="561.8" y2="408.5" stroke="#0c0c0c" stroke-width="1.6"/>
<line x1="555.3" y1="389.8" x2="568.3" y2="389.8" stroke="#0c0c0c" stroke-width="2"/>
<line x1="561.8" y1="356.1" x2="561.8" y2="303.2" stroke="#0c0c0c" stroke-width="1.6"/>
<polygon points="561.8,298.2 557.1999999999999,307.59999999999997 561.8,305.4 566.4,307.59999999999997" fill="#0c0c0c"/>
<circle cx="613.4" cy="483.7" r="8.825" fill="none" stroke="#cc0a14" stroke-width="6.65"/>
<rect x="589.8" y="361.4" width="47.30000000000007" height="17.80000000000001" rx="4.5" ry="4.5" fill="#fde596" stroke="#b3a47c" stroke-width="1"/>
<text x="613.45" y="374.21399999999994" font-size="10.3" fill="#1e1a0c" text-anchor="middle" stroke="#1e1a0c" stroke-width="0.18">Snail-2</text>
<text x="613.7" y="508.3" font-size="9.25" fill="#262626" text-anchor="middle">circ000284</text>
<line x1="614.0" y1="447.8" x2="614.0" y2="467" stroke="#0c0c0c" stroke-width="1.6"/>
<line x1="607.5" y1="447.8" x2="620.5" y2="447.8" stroke="#0c0c0c" stroke-width="2"/>
<rect x="602.8" y="417.6" width="24" height="3.9" fill="#eb8236"/>
<rect x="606.05" y="420.6" width="3.5" height="8.6" fill="#eb8236"/>
<rect x="613.05" y="420.6" width="3.5" height="8.6" fill="#eb8236"/>
<rect x="620.05" y="420.6" width="3.5" height="8.6" fill="#eb8236"/>
<text x="615.6" y="441.1" font-size="8.3" fill="#262626" text-anchor="middle">miR-506</text>
<line x1="614.0" y1="389.8" x2="614.0" y2="408.5" stroke="#0c0c0c" stroke-width="1.6"/>
<line x1="607.5" y1="389.8" x2="620.5" y2="389.8" stroke="#0c0c0c" stroke-width="2"/>
<line x1="614.0" y1="356.1" x2="614.0" y2="303.2" stroke="#0c0c0c" stroke-width="1.6"/>
<polygon points="614.0,298.2 609.4,307.59999999999997 614.0,305.4 618.6,307.59999999999997" fill="#0c0c0c"/>
<circle cx="664.5" cy="483.9" r="9.2" fill="none" stroke="#c6e2b2" stroke-width="6"/>
<circle cx="664.5" cy="483.9" r="12" fill="none" stroke="#3f7fb8" stroke-width="1.1"/>
<circle cx="664.5" cy="483.9" r="6.3" fill="none" stroke="#3f7fb8" stroke-width="1.1"/>
<rect x="641.5" y="361.4" width="43.89999999999998" height="17.80000000000001" rx="4.5" ry="4.5" fill="#c9e1bd" stroke="#a0b79c" stroke-width="1"/>
<text x="663.45" y="374.21399999999994" font-size="10.3" fill="#1f3320" text-anchor="middle" stroke="#1f3320" stroke-width="0.18">FOXK2</text>
<text x="663.7" y="508.3" font-size="9.25" fill="#262626" text-anchor="middle">circITCH</text>
<line x1="663.6" y1="447.8" x2="663.6" y2="467" stroke="#0c0c0c" stroke-width="1.6"/>
<line x1="657.1" y1="447.8" x2="670.1" y2="447.8" stroke="#0c0c0c" stroke-width="2"/>
<rect x="651.85" y="417.6" width="24" height="3.9" fill="#eb8236"/>
<rect x="655.1" y="420.6" width="3.5" height="8.6" fill="#eb8236"/>
<rect x="662.1" y="420.6" width="3.5" height="8.6" fill="#eb8236"/>
<rect x="669.1" y="420.6" width="3.5" height="8.6" fill="#eb8236"/>
<text x="664.1" y="441.1" font-size="8.3" fill="#262626" text-anchor="middle">miR-93-5p</text>
<line x1="663.6" y1="389.8" x2="663.6" y2="408.5" stroke="#0c0c0c" stroke-width="1.6"/>
<line x1="657.1" y1="389.8" x2="670.1" y2="389.8" stroke="#0c0c0c" stroke-width="2"/>
<line x1="663.2" y1="299" x2="663.2" y2="356.1" stroke="#0c0c0c" stroke-width="1.6"/>
<line x1="656.7" y1="299" x2="669.7" y2="299" stroke="#0c0c0c" stroke-width="2"/>
</svg></body></html>
